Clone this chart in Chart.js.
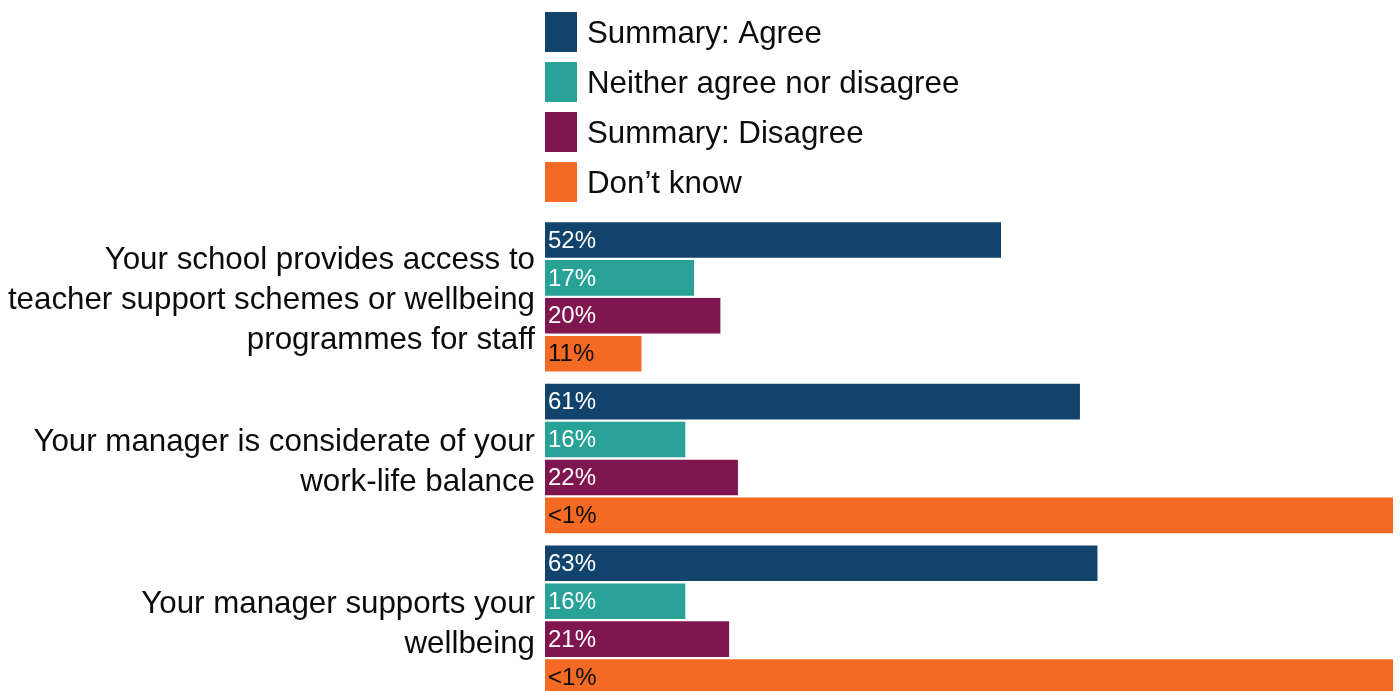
<!DOCTYPE html>
<html>
<head>
<meta charset="utf-8">
<script src="https://cdn.jsdelivr.net/npm/chart.js@4/dist/chart.umd.min.js"></script>
<style>
  html, body { margin: 0; padding: 0; background: #fff; overflow: hidden; }
  #chart { display: block; }
</style>
</head>
<body>
<canvas id="chart" width="1400" height="771"></canvas>
<script>
// Données du graphique
const categories = [
  ['Your school provides access to', 'teacher support schemes or wellbeing', 'programmes for staff'],
  ['Your manager is considerate of your', 'work-life balance'],
  ['Your manager supports your', 'wellbeing']
];
const seriesNames = ['Summary: Agree', 'Neither agree nor disagree', 'Summary: Disagree', 'Don\u2019t know'];
const X_MAX = 96.7;
const agree = [52, 61, 63];
const neither = [17, 16, 16];
const disagree = [20, 22, 21];
const dontKnow = [11, X_MAX, X_MAX]; // les barres "<1%" remplissent toute la largeur
const agreeLabels = ['52%', '61%', '63%'];
const neitherLabels = ['17%', '16%', '16%'];
const disagreeLabels = ['20%', '22%', '21%'];
const dontKnowLabels = ['11%', '<1%', '<1%'];

const colors = ['#12436D', '#28A197', '#801650', '#F46A25'];
const labelColors = ['#ffffff', '#ffffff', '#ffffff', '#0b0c0c'];
const FONT = '"Liberation Sans", Arial, sans-serif';

const values = [agree, neither, disagree, dontKnow];
const valueLabels = [agreeLabels, neitherLabels, disagreeLabels, dontKnowLabels];

// Légende verticale alignée sur le début des barres
const legendPlugin = {
  id: 'sideLegend',
  afterDraw(chart) {
    const ctx = chart.ctx;
    const left = chart.chartArea.left;
    ctx.save();
    ctx.font = '31.3px ' + FONT;
    ctx.textBaseline = 'middle';
    seriesNames.forEach((name, i) => {
      const top = 12 + i * 50;
      ctx.fillStyle = colors[i];
      ctx.fillRect(left, top, 32, 40);
      ctx.fillStyle = '#0b0c0c';
      ctx.fillText(name, left + 42, top + 22);
    });
    ctx.restore();
  }
};

// Étiquettes de valeur au début de chaque barre
const barLabelPlugin = {
  id: 'barLabels',
  afterDatasetsDraw(chart) {
    const ctx = chart.ctx;
    ctx.save();
    ctx.font = '24px ' + FONT;
    ctx.textBaseline = 'middle';
    chart.data.datasets.forEach((ds, i) => {
      const meta = chart.getDatasetMeta(i);
      meta.data.forEach((bar, j) => {
        ctx.fillStyle = labelColors[i];
        ctx.fillText(valueLabels[i][j], bar.base + 3, bar.y + 1);
      });
    });
    ctx.restore();
  }
};

const data = {
  labels: categories,
  datasets: seriesNames.map((name, i) => ({
    label: name,
    data: values[i],
    backgroundColor: colors[i],
    borderWidth: 0,
    barPercentage: 0.94,
    categoryPercentage: 0.938
  }))
};

const config = {
  type: 'bar',
  data: data,
  options: {
    indexAxis: 'y',
    responsive: false,
    animation: false,
    layout: { padding: { top: 216, right: 7, bottom: 17, left: 0 } },
    scales: {
      x: {
        display: false,
        min: 0,
        max: X_MAX
      },
      y: {
        grid: { display: false, drawTicks: false },
        border: { display: false },
        ticks: {
          color: '#0b0c0c',
          padding: 10,
          labelOffset: 4,
          font: { family: FONT, size: 31.3, lineHeight: 1.278 }
        },
        afterFit: (scale) => { scale.width = 545; }
      }
    },
    plugins: {
      legend: { display: false },
      tooltip: { enabled: false }
    }
  },
  plugins: [legendPlugin, barLabelPlugin]
};

new Chart(document.getElementById('chart'), config);
</script>
</body>
</html>
